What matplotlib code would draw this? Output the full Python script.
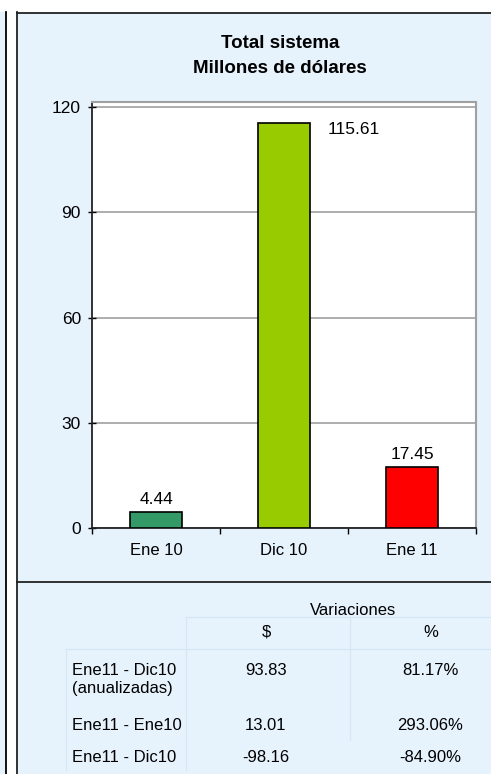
import matplotlib.pyplot as plt
from matplotlib.patches import Rectangle
from matplotlib.lines import Line2D

plt.rcParams['font.family'] = ['Liberation Sans', 'DejaVu Sans']

categories = ['Ene 10', 'Dic 10', 'Ene 11']
values = [4.44, 115.61, 17.45]
bar_colors = ['#339966', '#99cc00', '#ff0000']
yticks = [0, 30, 60, 90, 120]

title_lines = ['Total sistema', 'Millones de dólares']
table_header = 'Variaciones'
col_labels = ['$', '%']
row_labels = ['Ene11 - Dic10\n(anualizadas)', 'Ene11 - Ene10', 'Ene11 - Dic10']
var_usd = ['93.83', '13.01', '-98.16']
var_pct = ['81.17%', '293.06%', '-84.90%']

W, H = 491, 774
fig = plt.figure(figsize=(W / 100, H / 100), dpi=100)
fig.patch.set_facecolor('white')


def fx(x):
    return x / W


def fy(y):
    return 1 - y / H


bg = '#e6f2fc'
# left strip and main panel
fig.add_artist(Rectangle((0, 0), fx(5.5), fy(12), transform=fig.transFigure,
                         facecolor=bg, edgecolor='none', zorder=0))
fig.add_artist(Rectangle((fx(17), 0), 1 - fx(17), fy(12), transform=fig.transFigure,
                         facecolor=bg, edgecolor='none', zorder=0))
for xs, ys, c in [([5.5, 5.5], [12, H], 'black'),
                  ([17, 17], [12, H], '#222222'),
                  ([17, W], [12.5, 12.5], '#222222'),
                  ([17, W], [582, 582], '#222222')]:
    fig.add_artist(Line2D([fx(x) for x in xs], [fy(y) for y in ys],
                          transform=fig.transFigure, color=c, lw=1.3, zorder=1))

# faint table grid
grid_c = '#d3e7f7'
for xs, ys in [([186, 186], [617, 770]), ([350, 350], [617, 740]),
               ([186, W], [617, 617]), ([66, W], [649, 649]),
               ([66, 66], [649, 770])]:
    fig.add_artist(Line2D([fx(x) for x in xs], [fy(y) for y in ys],
                          transform=fig.transFigure, color=grid_c, lw=0.8, zorder=1))

# bar chart
ax = fig.add_axes([fx(92), fy(528), (476 - 92) / W, (528 - 102) / H])
ax.set_facecolor('white')
x = range(len(categories))
bars = ax.bar(x, values, width=0.41, color=bar_colors, edgecolor='black',
              linewidth=1.2, zorder=3)
ax.set_xlim(-0.5, 2.5)
ax.set_ylim(0, 121.5)
ax.set_yticks(yticks)
ax.set_yticklabels([str(t) for t in yticks])
ax.yaxis.grid(True, color='#a0a0a0', lw=1.2, zorder=0)
ax.set_xticks(list(x))
ax.set_xticklabels(categories)
ax.set_xticks([-0.5, 0.5, 1.5, 2.5], minor=True)
ax.tick_params(axis='x', which='major', length=0, pad=11, labelsize=12)
ax.tick_params(axis='x', which='minor', length=4, direction='out', width=1)
ax.tick_params(axis='y', length=6, direction='inout', width=1, pad=5, labelsize=12.5)
for s in ['left', 'bottom']:
    ax.spines[s].set_color('#222222')
    ax.spines[s].set_linewidth(1.3)
for s in ['top', 'right']:
    ax.spines[s].set_color('#a0a0a0')
    ax.spines[s].set_linewidth(1.5)

for i, (b, v) in enumerate(zip(bars, values)):
    if v == max(values):
        ax.annotate(f'{v:.2f}', xy=(b.get_x() + b.get_width(), v),
                    xytext=(17, -7), textcoords='offset pixels',
                    ha='left', va='center', fontsize=12.5)
    else:
        ax.annotate(f'{v:.2f}', xy=(b.get_x() + b.get_width() / 2, v),
                    xytext=(0, 8), textcoords='offset pixels',
                    ha='center', va='baseline', fontsize=12.5)

for ty, line in zip([48, 73], title_lines):
    fig.text(fx(280), fy(ty), line, ha='center', va='baseline', fontsize=13.5,
             fontweight='bold')

# variations table
fig.text(fx(353), fy(615), table_header, ha='center', va='baseline', fontsize=12)
for cx, lab in zip([266, 431], col_labels):
    fig.text(fx(cx), fy(637), lab, ha='center', va='baseline', fontsize=12)
row_y = [675, 730, 762]
for ry, lab, u, p in zip(row_y, row_labels, var_usd, var_pct):
    for k, part in enumerate(lab.split('\n')):
        fig.text(fx(72), fy(ry + 18 * k), part, ha='left', va='baseline', fontsize=12)
    fig.text(fx(266), fy(ry), u, ha='center', va='baseline', fontsize=12)
    fig.text(fx(430), fy(ry), p, ha='center', va='baseline', fontsize=12)

fig.savefig('out.png', dpi=100)
